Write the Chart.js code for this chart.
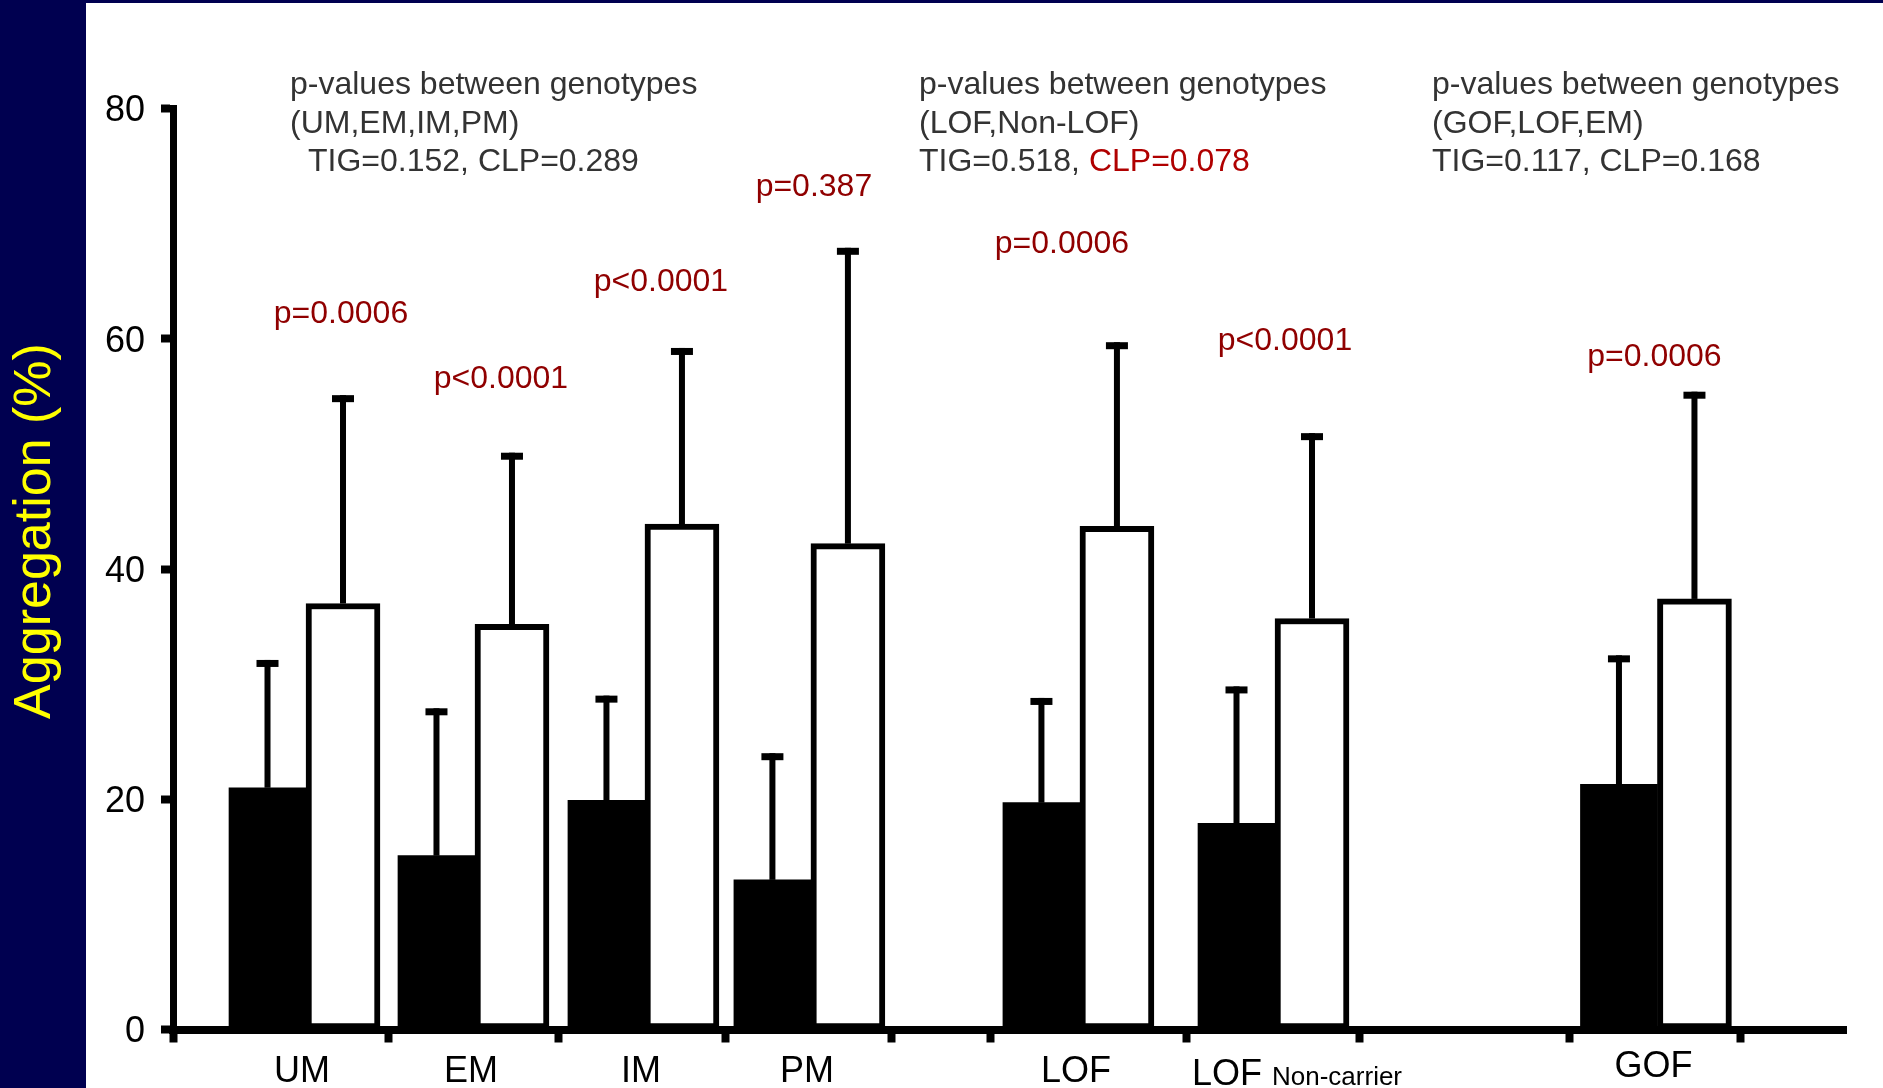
<!DOCTYPE html>
<html>
<head>
<meta charset="utf-8">
<title>Aggregation by genotype</title>
<script src="https://cdn.jsdelivr.net/npm/chart.js@4.4.1/dist/chart.umd.min.js"></script>
<style>
  html, body { margin: 0; padding: 0; background: #000050; overflow: hidden; }
  canvas { display: block; }
</style>
</head>
<body>
<canvas id="chart" width="1883" height="1088"></canvas>
<script>
const FONT = "'Liberation Sans', Arial, Helvetica, sans-serif";

// groups along the x axis (axis units, ~one category per unit)
const categories = ['UM', 'EM', 'IM', 'PM', 'LOF', 'LOF', 'GOF'];
const categoryNotes = ['', '', '', '', '', 'Non-carrier', ''];
const groupPos = [0.795, 1.805, 2.821, 3.813, 5.421, 6.587, 8.873];
const groupBounds = [0, 1.291, 2.307, 3.3, 4.292, 4.889, 6.055, 7.095, 8.35, 9.372];

// aggregation (%) mean and SD, black = TIG, white = CLP
const tigMean = [21.0, 15.1, 19.9, 13.0, 19.7, 17.9, 21.3];
const tigSD   = [11.1, 12.8, 9.1, 11.0, 9.1, 11.9, 11.2];
const clpMean = [37.0, 35.2, 43.9, 42.2, 43.7, 35.7, 37.4];
const clpSD   = [18.1, 14.9, 15.3, 25.7, 16.0, 16.1, 18.0];

const yTicks = [0, 20, 40, 60, 80];

const pLabels = ['p=0.0006', 'p<0.0001', 'p<0.0001', 'p=0.387', 'p=0.0006', 'p<0.0001', 'p=0.0006'];
const pLevels = [62.1, 56.5, 64.9, 73.2, 68.2, 59.8, 58.4];
const pShift  = [35, 26, 16, 3, -18, 10, -3];

const GRAY = '#333333';
const RED = '#900000';

const noteBlocks = [
  { x: 290, lines: [
    [{ t: 'p-values between genotypes' }],
    [{ t: '(UM,EM,IM,PM)' }],
    [{ t: 'TIG=0.152, CLP=0.289', dx: 18 }]
  ]},
  { x: 919, lines: [
    [{ t: 'p-values between genotypes' }],
    [{ t: '(LOF,Non-LOF)' }],
    [{ t: 'TIG=0.518, ' }, { t: 'CLP=0.078', c: '#b00000' }]
  ]},
  { x: 1432, lines: [
    [{ t: 'p-values between genotypes' }],
    [{ t: '(GOF,LOF,EM)' }],
    [{ t: 'TIG=0.117, CLP=0.168' }]
  ]}
];
const noteBaselines = [94, 132.5, 171];

const pagePlugin = {
  id: 'page',
  beforeDraw(chart) {
    const ctx = chart.ctx;
    ctx.save();
    ctx.fillStyle = '#000050';
    ctx.fillRect(0, 0, chart.width, chart.height);
    ctx.fillStyle = '#ffffff';
    ctx.fillRect(86, 3, chart.width - 86, chart.height - 3);
    ctx.restore();
  }
};

const errorBars = {
  id: 'errorBars',
  afterDatasetsDraw(chart) {
    const ctx = chart.ctx;
    const y = chart.scales.y;
    const sds = [tigSD, clpSD];
    ctx.save();
    ctx.fillStyle = '#000';
    chart.data.datasets.forEach((ds, d) => {
      chart.getDatasetMeta(d).data.forEach((bar, i) => {
        const top = y.getPixelForValue(ds.data[i].y + sds[d][i]);
        ctx.fillRect(bar.x - 3, top, 6, bar.y - top);
        ctx.fillRect(bar.x - 11, top, 22, 7);
      });
    });
    ctx.restore();
  }
};

const textPlugin = {
  id: 'texts',
  afterDraw(chart) {
    const ctx = chart.ctx;
    const x = chart.scales.x;
    const y = chart.scales.y;
    ctx.save();

    // note blocks at the top
    ctx.font = '32px ' + FONT;
    ctx.textAlign = 'left';
    ctx.textBaseline = 'alphabetic';
    noteBlocks.forEach(b => {
      b.lines.forEach((line, li) => {
        let px = b.x;
        line.forEach(seg => {
          px += seg.dx || 0;
          ctx.fillStyle = seg.c || GRAY;
          ctx.fillText(seg.t, px, noteBaselines[li]);
          px += ctx.measureText(seg.t).width;
        });
      });
    });

    // p-values per genotype
    ctx.fillStyle = RED;
    ctx.textAlign = 'center';
    ctx.textBaseline = 'middle';
    pLabels.forEach((t, i) => {
      ctx.fillText(t, x.getPixelForValue(groupPos[i]) + pShift[i], y.getPixelForValue(pLevels[i]));
    });

    // category labels
    ctx.fillStyle = '#000';
    ctx.textBaseline = 'alphabetic';
    categories.forEach((t, i) => {
      const cx = x.getPixelForValue(groupPos[i]);
      ctx.font = '36px ' + FONT;
      if (categoryNotes[i]) {
        ctx.textAlign = 'right';
        ctx.fillText(t, cx - 13, 1085);
        ctx.font = '26px ' + FONT;
        ctx.textAlign = 'left';
        ctx.fillText(categoryNotes[i], cx - 3, 1085);
      } else {
        ctx.textAlign = 'center';
        ctx.fillText(t, cx - 4, t === 'GOF' ? 1077 : 1082);
      }
    });

    // y axis title
    ctx.translate(50, 531);
    ctx.rotate(-Math.PI / 2);
    ctx.font = '52px ' + FONT;
    ctx.fillStyle = '#ffff00';
    ctx.textAlign = 'center';
    ctx.fillText('Aggregation (%)', 0, 0);
    ctx.restore();
  }
};

new Chart(document.getElementById('chart'), {
  type: 'bar',
  data: {
    datasets: [
      {
        label: 'TIG',
        data: groupPos.map((p, i) => ({ x: p, y: tigMean[i] })),
        backgroundColor: '#000000',
        borderWidth: 0,
        barThickness: 77
      },
      {
        label: 'CLP',
        data: groupPos.map((p, i) => ({ x: p, y: clpMean[i] })),
        backgroundColor: '#ffffff',
        borderColor: '#000000',
        borderWidth: 6,
        borderSkipped: false,
        barThickness: 74
      }
    ]
  },
  options: {
    responsive: false,
    animation: false,
    layout: { padding: { left: 0, top: 108.5, right: 37, bottom: 0 } },
    plugins: { legend: { display: false }, tooltip: { enabled: false } },
    scales: {
      x: {
        type: 'linear',
        min: 0,
        max: 10,
        offset: false,
        grid: { offset: false, drawOnChartArea: false, drawTicks: true, tickLength: 13, tickWidth: 8, tickColor: '#000' },
        border: { display: true, color: '#000', width: 8 },
        ticks: { display: false },
        afterBuildTicks(scale) { scale.ticks = groupBounds.map(v => ({ value: v })); },
        afterFit(scale) { scale.height = 58.5; scale.paddingLeft = 0; scale.paddingRight = 0; }
      },
      y: {
        min: 0,
        max: 80,
        grid: { drawOnChartArea: false, drawTicks: true, tickLength: 12, tickWidth: 8, tickColor: '#000' },
        border: { display: true, color: '#000', width: 7 },
        ticks: { color: '#000', padding: 16, labelOffset: 3, font: { family: FONT, size: 36 } },
        afterBuildTicks(scale) { scale.ticks = yTicks.map(v => ({ value: v })); },
        afterFit(scale) { scale.width = 173; scale.paddingTop = 0; scale.paddingBottom = 0; }
      }
    }
  },
  plugins: [pagePlugin, errorBars, textPlugin]
});
</script>
</body>
</html>
